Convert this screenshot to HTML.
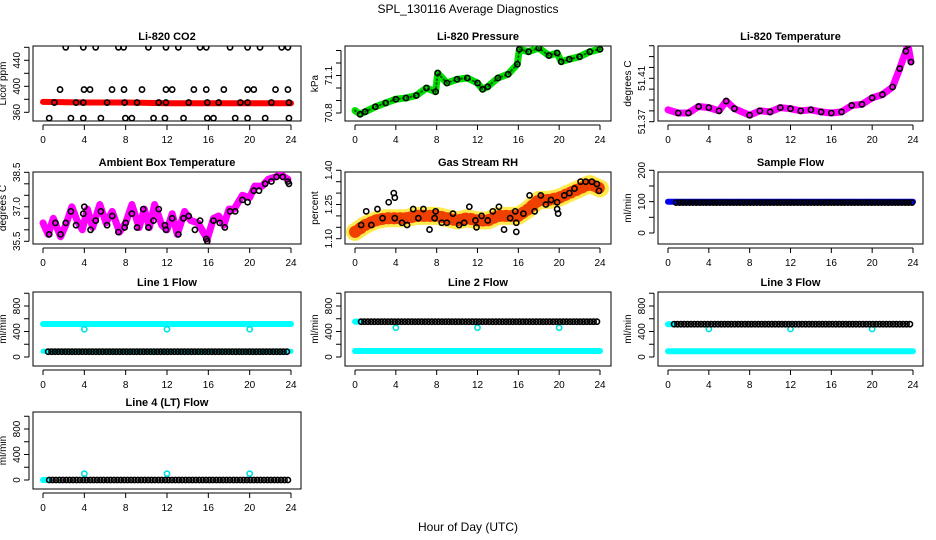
<!DOCTYPE html>
<html><head><meta charset="utf-8">
<style>
html,body{margin:0;padding:0;background:#fff;}
svg{display:block;font-family:"Liberation Sans",Arial,sans-serif;}
</style></head>
<body>
<svg id="c" width="936" height="540" viewBox="0 0 936 540">
<text x="468" y="13" text-anchor="middle" font-size="12">SPL_130116  Average Diagnostics</text>
<text x="468" y="531" text-anchor="middle" font-size="12">Hour of Day (UTC)</text>
</svg>
<script>
// ---- data arrays ----
const co2BandHours = [0,4,8,12,16,20,24];
const co2BandValues = [376,375,375,374,374,374,374];
const co2PtHours = [2.2,3.9,5.1,7.3,7.8,10.2,11.9,13.1,15.2,15.8,18.1,19.8,21,23.1,23.7,
 1.65,3.97,4.55,6.68,7.84,9.58,11.9,12.5,14.6,15.8,17.5,19.8,20.4,22.5,23.7,
 0.6,2.7,3.9,5.6,7.97,8.6,10.7,11.8,13.6,15.9,16.5,18.6,19.8,21.5,23.8,
 1.1,3.2,3.9,6.2,7.9,9.1,11.2,11.9,14.1,15.9,17.0,19.1,19.8,22.1,23.8];
const co2PtValues = [460,460,460,460,460,460,460,460,460,460,460,460,460,460,460,
 395,395,395,395,395,395,395,395,395,395,395,395,395,395,395,
 351,351,351,351,351,351,351,351,351,351,351,351,351,351,351,
 375,375,375,375,375,375,375,375,375,375,375,375,375,375,375];
const presHours = [0,0.5,1,2,3,4,5,6,7,7.9,8.1,9,10,11,12,12.5,13,14,15,15.9,16.1,17,18,19,19.8,20.2,21,22,23,24];
const presValues = [70.82,70.79,70.81,70.85,70.88,70.91,70.92,70.94,71.0,70.97,71.12,71.04,71.07,71.08,71.04,70.99,71.01,71.08,71.11,71.19,71.31,71.29,71.32,71.26,71.28,71.21,71.23,71.25,71.29,71.31];
const tempHours = [0,1,2,3,4,5,5.7,6.5,8,9,10,11,12,13,14,15,16,17,18,19,20,21,22,22.7,23.3,23.5,23.8];
const tempValues = [51.381,51.378,51.378,51.384,51.383,51.380,51.389,51.382,51.376,51.380,51.379,51.383,51.382,51.380,51.381,51.379,51.378,51.379,51.385,51.386,51.392,51.395,51.402,51.419,51.435,51.441,51.425];
const ambHours = [0,0.5,1,1.7,2.2,2.8,3.3,3.8,4.3,4.8,5.5,6.1,6.7,7.4,8,8.6,9.3,9.8,10.3,10.8,11.5,12,12.5,13,13.7,14.3,15,15.5,15.9,16.5,17,17.5,18,18.5,19.3,20,20.5,21.2,21.8,22.5,23,23.7];
const ambValues = [36.3,35.8,36.5,35.7,36.2,37.0,36.4,36.0,36.9,36.1,37.1,36.3,36.8,35.9,36.3,37.1,36.1,36.9,36.1,37.1,36.2,36.0,36.7,35.8,36.8,36.4,36.3,35.9,35.6,36.5,36.6,36.2,36.9,36.9,37.5,37.4,37.9,37.9,38.2,38.3,38.4,38.2];
const ambPtHours = [0.6,1.2,1.7,2.2,2.7,3.2,3.9,4.0,4.6,5.1,5.6,6.2,6.7,7.3,7.9,8.0,8.6,9.1,9.7,10.2,10.7,11.2,11.8,11.9,12.5,13.1,13.6,14.1,14.7,15.2,15.8,15.9,16.5,17.1,17.6,18.1,18.6,19.3,19.8,20.4,20.9,21.5,22.1,22.6,23.2,23.7,23.8];
const ambPtValues = [35.8,36.3,35.8,36.3,36.8,36.2,36.7,37.0,36.0,36.4,36.8,36.2,36.6,35.9,36.1,36.3,36.7,36.1,36.9,36.1,36.4,36.9,36.2,36.0,36.5,35.8,36.5,36.6,36.0,36.4,35.6,35.5,36.4,36.3,36.1,36.8,36.8,37.3,37.2,37.7,37.7,38.0,38.1,38.3,38.3,38.1,38.0];
const rhHours = [0,1,2,3,4,5,6,7,8,9,10,11,12,13,14,15,16,17,18,19,20,21,22,23,24];
const rhValues = [1.13,1.16,1.18,1.19,1.19,1.19,1.20,1.20,1.20,1.19,1.18,1.19,1.18,1.18,1.20,1.20,1.20,1.23,1.27,1.27,1.28,1.30,1.32,1.34,1.32];
const rhPtHours = [0.6,1.1,1.6,2.2,2.7,3.3,3.8,3.9,3.9,4.6,5.1,5.7,6.2,6.7,7.3,7.9,7.8,8.5,9.0,9.6,10.2,10.7,11.2,11.8,11.9,12.4,13.0,13.5,14.1,14.6,15.2,15.7,15.8,15.8,16.5,17.1,17.6,18.2,18.7,19.2,19.8,19.8,19.9,20.5,21,21.5,22.1,22.6,23.2,23.7,23.9];
const rhPtValues = [1.16,1.22,1.16,1.23,1.19,1.26,1.30,1.28,1.19,1.17,1.16,1.23,1.19,1.23,1.14,1.22,1.19,1.17,1.17,1.21,1.16,1.17,1.24,1.18,1.15,1.20,1.18,1.22,1.24,1.14,1.19,1.22,1.17,1.13,1.21,1.29,1.22,1.29,1.25,1.27,1.26,1.23,1.21,1.29,1.30,1.32,1.35,1.35,1.35,1.34,1.31];
const sampleFlow = {band:100, pts:97};
const line1Flow = {cyanHigh:518, cyanLow:90, black:83, dip:435};
const line2Flow = {cyanHigh:555, cyanLow:94, black:554, dip:460};
const line3Flow = {cyanHigh:515, cyanLow:90, black:515, dip:440};
const line4Flow = {cyanLow:0, black:0, dip:100};
const dipHours = [4,12,20];
const xTicks = [0,4,8,12,16,20,24];

// ---- helpers ----
const svg = document.getElementById('c');
const NS = 'http://www.w3.org/2000/svg';
function mk(tag, attrs, parent){const e=document.createElementNS(NS,tag);for(const k in attrs)e.setAttribute(k,attrs[k]);(parent||svg).appendChild(e);return e;}
const cols = [{x0:43,x24:291,l:33,r:301},{x0:355,x24:600,l:345,r:611},{x0:668,x24:913,l:658,r:923}];
const rows = [{t:46,b:121},{t:172,b:244},{t:292,b:366},{t:412,b:489}];
function panel(name,title,ci,ri,yref,ticks,labels,ylab){
  const c=cols[ci], r=rows[ri];
  const g=mk('g',{});
  
  
  const X=h=>c.x0+h*(c.x24-c.x0)/24;
  const Y=v=>yref[1]+(v-yref[0])*(yref[3]-yref[1])/(yref[2]-yref[0]);
  const t=mk('text',{x:(c.l+c.r)/2,y:r.t-6,'text-anchor':'middle','font-size':11,'font-weight':'bold'},g);
  t.textContent=title;
  
  
  const box=mk('rect',{x:c.l,y:r.t,width:c.r-c.l,height:r.b-r.t,fill:'none',stroke:'#000','stroke-width':1},g);
  
  
  const clipId='clip-'+name;
  const cp=mk('clipPath',{id:clipId},g);
  mk('rect',{x:c.l,y:r.t,width:c.r-c.l,height:r.b-r.t},cp);
  const plot=mk('g',{'clip-path':'url(#'+clipId+')'},g);
  const ax=mk('g',{},g);
  
  
  mk('line',{x1:X(0),x2:X(24),y1:r.b+4,y2:r.b+4,stroke:'#000'},ax);
  xTicks.forEach(h=>{mk('line',{x1:X(h),x2:X(h),y1:r.b+4,y2:r.b+9,stroke:'#000'},ax);
    const tl=mk('text',{x:X(h),y:r.b+22,'text-anchor':'middle','font-size':10},ax);tl.textContent=h;});
  mk('line',{x1:c.l-4,x2:c.l-4,y1:Y(ticks[0]),y2:Y(ticks[ticks.length-1]),stroke:'#000'},ax);
  ticks.forEach(v=>{mk('line',{x1:c.l-9,x2:c.l-4,y1:Y(v),y2:Y(v),stroke:'#000'},ax);});
  labels.forEach(v=>{const lx=c.l-13, ly=Y(parseFloat(v));
    const tl=mk('text',{x:lx,y:ly,'text-anchor':'middle','font-size':10,transform:`rotate(-90 ${lx} ${ly})`},ax);tl.textContent=v;});
  const yl=c.l-27, ym=(r.t+r.b)/2;
  const yt=mk('text',{x:yl,y:ym,'text-anchor':'middle','font-size':10,transform:`rotate(-90 ${yl} ${ym})`},g);
  yt.textContent=ylab;
  
  
  return {X,Y,plot};
}
function band(p,hs,vs,color,w,name){
  const pts=hs.map((h,i)=>p.X(h).toFixed(1)+','+p.Y(vs[i]).toFixed(1)).join(' ');
  const e=mk('polyline',{points:pts,fill:'none',stroke:color,'stroke-width':w,'stroke-linejoin':'round','stroke-linecap':'round'},p.plot);
  
  
  return e;
}
function circles(p,hs,vs,color,name){
  const g=mk('g',{},p.plot);
  
  
  hs.forEach((h,i)=>{mk('circle',{cx:p.X(h),cy:p.Y(vs[i]),r:2.6,fill:'none',stroke:color,'stroke-width':1.6},g);});
}
function seq(a,b,step){const out=[];for(let h=a;h<=b+1e-9;h+=step)out.push(+h.toFixed(3));return out;}
const fill=(arr,v)=>arr.map(()=>v);

// ---- panels ----
let p=panel('co2','Li-820 CO2',0,0,[360,112.3,440,60.3],[360,380,400,420,440,460],['360','400','440'],'Licor ppm');
band(p,co2BandHours,co2BandValues,'#f00',6,'co2-band');
circles(p,co2PtHours,co2PtValues,'#000','co2-points');

p=panel('pressure','Li-820 Pressure',1,0,[70.8,113,71.1,75.5],[70.8,70.9,71.0,71.1,71.2,71.3],['70.8','71.1'],'kPa');
band(p,presHours,presValues,'#00e000',7,'pressure-band');
band(p,presHours,presValues,'#006000',2,'pressure-band-core').setAttribute('stroke-dasharray','1 3');
circles(p,presHours.slice(1),presValues.slice(1),'#000','pressure-points');

p=panel('temperature','Li-820 Temperature',2,0,[51.37,121.7,51.41,78.3],[51.37,51.38,51.39,51.40,51.41,51.42,51.43,51.44],['51.37','51.41'],'degrees C');
band(p,tempHours,tempValues,'#f0f',7,'temperature-band');
circles(p,tempHours.slice(1),tempValues.slice(1),'#000','temperature-points');

p=panel('ambient','Ambient Box Temperature',0,1,[35.5,241.3,38.5,172.3],[35.5,36,36.5,37,37.5,38,38.5],['35.5','37.0','38.5'],'degrees C');
band(p,ambHours,ambValues,'#f0f',7,'ambient-band');
circles(p,ambPtHours,ambPtValues,'#000','ambient-points');

p=panel('rh','Gas Stream RH',1,1,[1.10,238.7,1.40,170.3],[1.10,1.15,1.20,1.25,1.30,1.35,1.40],['1.10','1.25','1.40'],'percent');
band(p,rhHours,rhValues,'#ffe000',18,'rh-band').setAttribute('stroke-opacity','0.7');
band(p,rhHours,rhValues,'#f04000',12,'rh-band-red').setAttribute('stroke-dasharray','1 5');
circles(p,rhPtHours,rhPtValues,'#000','rh-points');

p=panel('sample-flow','Sample Flow',2,1,[0,233,200,170.3],[0,50,100,150,200],['0','100','200'],'ml/min');
band(p,[0,24],[sampleFlow.band,sampleFlow.band],'#0000f0',6,'sample-flow-band');
let hs=seq(0.8,23.9,0.33);
circles(p,hs,fill(hs,sampleFlow.pts),'#000','sample-flow-points');

const flowTicks=[0,200,400,600,800,1000], flowLabels=['0','400','800'];
p=panel('line1-flow','Line 1 Flow',0,2,[0,357,800,306],flowTicks,flowLabels,'ml/min');
band(p,[0,24],[line1Flow.cyanHigh,line1Flow.cyanHigh],'#00ffff',6,'line1-cyan-high');
band(p,[0,24],[line1Flow.cyanLow,line1Flow.cyanLow],'#00ffff',5,'line1-cyan-low');
circles(p,dipHours,fill(dipHours,line1Flow.dip),'#00e0e0','line1-dips');
hs=seq(0.5,23.9,0.33);
circles(p,hs,fill(hs,line1Flow.black),'#000','line1-points');

p=panel('line2-flow','Line 2 Flow',1,2,[0,357,800,306],flowTicks,flowLabels,'ml/min');
band(p,[0,24],[line2Flow.cyanLow,line2Flow.cyanLow],'#00ffff',6,'line2-cyan-low');
band(p,[0,0.6],[line2Flow.cyanHigh,line2Flow.cyanHigh],'#00ffff',6,'line2-cyan-high');
circles(p,dipHours,fill(dipHours,line2Flow.dip),'#00e0e0','line2-dips');
hs=seq(0.6,23.9,0.33);
circles(p,hs,fill(hs,line2Flow.black),'#000','line2-points');

p=panel('line3-flow','Line 3 Flow',2,2,[0,357,800,306],flowTicks,flowLabels,'ml/min');
band(p,[0,24],[line3Flow.cyanLow,line3Flow.cyanLow],'#00ffff',6,'line3-cyan-low');
band(p,[0,0.5],[line3Flow.cyanHigh,line3Flow.cyanHigh],'#00ffff',6,'line3-cyan-high');
circles(p,dipHours,fill(dipHours,line3Flow.dip),'#00e0e0','line3-dips');
hs=seq(0.6,23.9,0.33);
circles(p,hs,fill(hs,line3Flow.black),'#000','line3-points');

p=panel('line4-flow','Line 4 (LT) Flow',0,3,[0,480,800,429],flowTicks,flowLabels,'ml/min');
band(p,[0,0.4],[line4Flow.cyanLow,line4Flow.cyanLow],'#00ffff',6,'line4-cyan-low');
circles(p,dipHours,fill(dipHours,line4Flow.dip),'#00e0e0','line4-spikes');
hs=seq(0.6,23.9,0.33);
circles(p,hs,fill(hs,line4Flow.black),'#000','line4-points');
</script>
</body></html>
